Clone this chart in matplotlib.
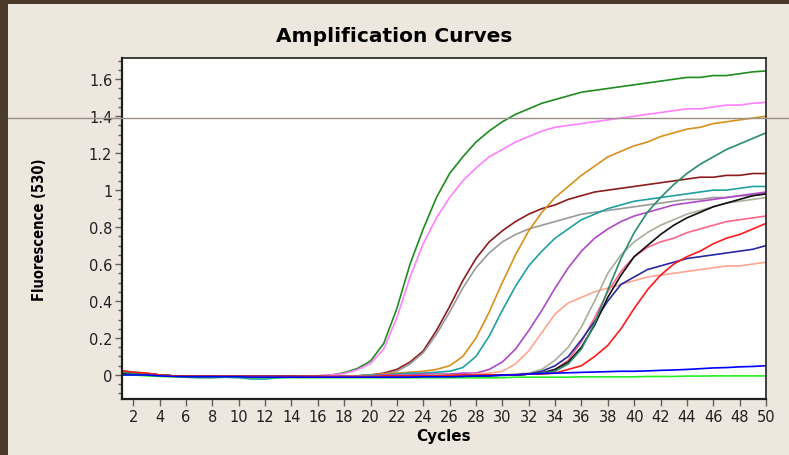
import matplotlib
matplotlib.use("Agg")
import matplotlib.pyplot as plt
from matplotlib.lines import Line2D
from matplotlib.patches import Rectangle
from matplotlib.ticker import MultipleLocator
import matplotlib.transforms as mtransforms

# ---------------------------------------------------------------------------
# data: fluorescence (530) per cycle
# ---------------------------------------------------------------------------
cycles = list(range(1, 51))

dark_green = [0.02, 0.015, 0.01, 0.0, -0.005, -0.012, -0.012, -0.01, -0.01, -0.01,
              -0.01, -0.01, -0.01, -0.01, -0.008, -0.005, 0.0, 0.012, 0.035, 0.075,
              0.17, 0.36, 0.60, 0.79, 0.96, 1.09, 1.18, 1.26, 1.32, 1.37,
              1.41, 1.44, 1.47, 1.49, 1.51, 1.53, 1.54, 1.55, 1.56, 1.57,
              1.58, 1.59, 1.60, 1.61, 1.61, 1.62, 1.62, 1.63, 1.64, 1.645]
pink = [0.01, 0.01, 0.005, 0.0, -0.005, -0.008, -0.008, -0.008, -0.008, -0.008,
        -0.008, -0.008, -0.008, -0.008, -0.006, -0.004, 0.0, 0.008, 0.028, 0.062,
        0.14, 0.31, 0.53, 0.71, 0.85, 0.96, 1.05, 1.12, 1.18, 1.22,
        1.26, 1.29, 1.32, 1.34, 1.35, 1.36, 1.37, 1.38, 1.39, 1.40,
        1.41, 1.42, 1.43, 1.44, 1.44, 1.45, 1.46, 1.46, 1.47, 1.475]
maroon = [0.01, 0.008, 0.005, 0.0, -0.005, -0.008, -0.008, -0.008, -0.01, -0.01,
          -0.01, -0.01, -0.01, -0.01, -0.01, -0.01, -0.01, -0.008, -0.005, 0.0,
          0.01, 0.03, 0.07, 0.13, 0.24, 0.37, 0.51, 0.63, 0.72, 0.78,
          0.83, 0.87, 0.90, 0.92, 0.95, 0.97, 0.99, 1.00, 1.01, 1.02,
          1.03, 1.04, 1.05, 1.06, 1.07, 1.07, 1.08, 1.08, 1.09, 1.09]
gray = [0.01, 0.008, 0.005, 0.0, -0.005, -0.008, -0.008, -0.008, -0.008, -0.008,
        -0.008, -0.008, -0.008, -0.008, -0.008, -0.008, -0.008, -0.008, -0.005, -0.002,
        0.005, 0.02, 0.06, 0.12, 0.22, 0.34, 0.47, 0.58, 0.66, 0.72,
        0.76, 0.79, 0.81, 0.83, 0.85, 0.87, 0.88, 0.89, 0.90, 0.91,
        0.92, 0.93, 0.94, 0.95, 0.95, 0.96, 0.96, 0.97, 0.97, 0.98]
orange = [0.01, 0.008, 0.005, 0.0, -0.005, -0.01, -0.01, -0.01, -0.01, -0.01,
          -0.01, -0.01, -0.012, -0.012, -0.012, -0.01, -0.01, -0.008, -0.005, 0.0,
          0.005, 0.01, 0.015, 0.02, 0.03, 0.05, 0.10, 0.20, 0.34, 0.50,
          0.65, 0.78, 0.88, 0.96, 1.02, 1.08, 1.13, 1.18, 1.21, 1.24,
          1.26, 1.29, 1.31, 1.33, 1.34, 1.36, 1.37, 1.38, 1.39, 1.40]
teal = [0.015, 0.01, 0.005, 0.0, -0.005, -0.01, -0.01, -0.01, -0.012, -0.015,
        -0.022, -0.022, -0.015, -0.012, -0.01, -0.01, -0.008, -0.005, -0.005, 0.0,
        0.0, 0.005, 0.01, 0.01, 0.015, 0.02, 0.04, 0.10, 0.21, 0.35,
        0.48, 0.59, 0.67, 0.74, 0.79, 0.84, 0.87, 0.90, 0.92, 0.94,
        0.95, 0.96, 0.97, 0.98, 0.99, 1.00, 1.00, 1.01, 1.02, 1.02]
purple = [0.01, 0.008, 0.005, 0.0, -0.005, -0.008, -0.008, -0.008, -0.008, -0.008,
          -0.008, -0.008, -0.008, -0.008, -0.008, -0.008, -0.008, -0.008, -0.005, -0.005,
          0.0, 0.0, 0.0, 0.005, 0.005, 0.005, 0.01, 0.01, 0.03, 0.07,
          0.14, 0.24, 0.35, 0.47, 0.58, 0.67, 0.74, 0.79, 0.83, 0.86,
          0.88, 0.90, 0.92, 0.93, 0.94, 0.95, 0.96, 0.97, 0.98, 0.99]
salmon = [0.01, 0.008, 0.005, 0.0, -0.005, -0.01, -0.01, -0.01, -0.01, -0.01,
          -0.01, -0.01, -0.012, -0.012, -0.012, -0.012, -0.012, -0.01, -0.01, -0.008,
          -0.005, -0.005, -0.005, -0.005, -0.005, -0.005, 0.0, 0.005, 0.01, 0.02,
          0.06, 0.13, 0.23, 0.33, 0.39, 0.42, 0.45, 0.47, 0.49, 0.51,
          0.53, 0.54, 0.55, 0.56, 0.57, 0.58, 0.59, 0.59, 0.60, 0.61]
sea_green = [0.015, 0.01, 0.005, 0.0, -0.005, -0.012, -0.015, -0.015, -0.012, -0.01,
             -0.01, -0.01, -0.01, -0.01, -0.01, -0.01, -0.01, -0.01, -0.008, -0.008,
             -0.008, -0.008, -0.008, -0.005, -0.005, -0.005, -0.005, -0.005, -0.002, -0.002,
             0.0, 0.005, 0.01, 0.02, 0.06, 0.14, 0.28, 0.46, 0.63, 0.77,
             0.88, 0.96, 1.03, 1.09, 1.14, 1.18, 1.22, 1.25, 1.28, 1.31]
khaki = [0.01, 0.008, 0.005, 0.0, -0.005, -0.008, -0.008, -0.008, -0.008, -0.008,
         -0.008, -0.008, -0.008, -0.008, -0.008, -0.008, -0.008, -0.008, -0.005, -0.005,
         -0.005, -0.005, -0.005, -0.005, 0.0, 0.0, 0.0, 0.0, 0.0, 0.0,
         0.005, 0.01, 0.03, 0.08, 0.15, 0.26, 0.40, 0.55, 0.65, 0.72,
         0.77, 0.81, 0.84, 0.87, 0.89, 0.91, 0.93, 0.94, 0.95, 0.96]
black = [0.01, 0.008, 0.005, 0.0, -0.005, -0.008, -0.008, -0.008, -0.008, -0.008,
         -0.008, -0.008, -0.008, -0.008, -0.008, -0.008, -0.01, -0.01, -0.01, -0.01,
         -0.01, -0.01, -0.008, -0.008, -0.005, -0.005, -0.005, -0.005, -0.002, 0.0,
         0.0, 0.005, 0.01, 0.03, 0.07, 0.15, 0.27, 0.42, 0.54, 0.64,
         0.70, 0.76, 0.81, 0.85, 0.88, 0.91, 0.93, 0.95, 0.97, 0.98]
hot_pink = [0.01, 0.008, 0.005, 0.0, -0.005, -0.008, -0.008, -0.008, -0.008, -0.008,
            -0.008, -0.008, -0.008, -0.008, -0.008, -0.008, -0.008, -0.008, -0.008, -0.008,
            -0.008, -0.008, -0.005, -0.005, -0.005, -0.005, -0.005, -0.002, 0.0, 0.0,
            0.0, 0.005, 0.01, 0.03, 0.08, 0.18, 0.31, 0.45, 0.56, 0.64,
            0.69, 0.72, 0.74, 0.77, 0.79, 0.81, 0.83, 0.84, 0.85, 0.86]
navy = [0.01, 0.008, 0.005, 0.0, -0.005, -0.008, -0.008, -0.008, -0.008, -0.008,
        -0.008, -0.008, -0.008, -0.008, -0.01, -0.012, -0.012, -0.012, -0.012, -0.012,
        -0.012, -0.012, -0.012, -0.01, -0.01, -0.01, -0.008, -0.005, -0.005, -0.002,
        0.0, 0.005, 0.02, 0.05, 0.10, 0.19, 0.29, 0.40, 0.49, 0.53,
        0.57, 0.59, 0.61, 0.63, 0.64, 0.65, 0.66, 0.67, 0.68, 0.70]
red = [0.025, 0.015, 0.01, 0.0, -0.005, -0.008, -0.008, -0.008, -0.008, -0.008,
       -0.008, -0.008, -0.008, -0.008, -0.008, -0.008, -0.008, -0.008, -0.008, -0.008,
       -0.005, -0.005, -0.005, -0.005, -0.005, -0.002, 0.0, 0.0, 0.0, 0.0,
       0.0, 0.005, 0.005, 0.01, 0.03, 0.05, 0.10, 0.16, 0.25, 0.36,
       0.46, 0.54, 0.60, 0.64, 0.67, 0.71, 0.74, 0.76, 0.79, 0.82]
blue = [0.0, 0.0, 0.0, -0.005, -0.008, -0.01, -0.01, -0.01, -0.01, -0.01,
        -0.012, -0.012, -0.012, -0.012, -0.012, -0.012, -0.012, -0.012, -0.012, -0.012,
        -0.012, -0.012, -0.012, -0.01, -0.01, -0.01, -0.008, -0.005, -0.005, 0.0,
        0.0, 0.005, 0.008, 0.01, 0.012, 0.014, 0.016, 0.018, 0.02, 0.02,
        0.022, 0.025, 0.027, 0.03, 0.034, 0.038, 0.04, 0.044, 0.046, 0.05]
lime = [0.0, 0.0, -0.005, -0.008, -0.01, -0.012, -0.012, -0.012, -0.012, -0.012,
        -0.014, -0.014, -0.014, -0.014, -0.015, -0.015, -0.015, -0.015, -0.015, -0.015,
        -0.015, -0.015, -0.015, -0.015, -0.015, -0.015, -0.015, -0.015, -0.015, -0.015,
        -0.012, -0.012, -0.012, -0.012, -0.012, -0.01, -0.01, -0.01, -0.01, -0.01,
        -0.008, -0.008, -0.008, -0.006, -0.006, -0.005, -0.005, -0.005, -0.005, -0.005]

series = [
    (dark_green, "#1E8C1E"), (pink, "#FF80FF"), (maroon, "#8B1C1C"),
    (gray, "#9A9A9A"), (orange, "#D8901C"), (teal, "#20A0A0"),
    (purple, "#B048C8"), (salmon, "#FFA590"), (khaki, "#A8B09C"),
    (hot_pink, "#FF6688"), (navy, "#2828A0"), (black, "#101010"),
    (sea_green, "#2A8C6E"), (red, "#FF1A1A"), (lime, "#22EE22"), (blue, "#0000FF"),
]

x_ticks = list(range(2, 51, 2))
y_ticks = [0, 0.2, 0.4, 0.6, 0.8, 1.0, 1.2, 1.4, 1.6]
y_tick_labels = ["0", "0.2", "0.4", "0.6", "0.8", "1", "1.2", "1.4", "1.6"]
threshold = 1.39

# ---------------------------------------------------------------------------
# figure
# ---------------------------------------------------------------------------
W, H = 789, 456
fig = plt.figure(figsize=(W / 100, H / 100), dpi=100, facecolor="#EEE7DE")

# wood frame strips (left + top)
fig.patches.append(Rectangle((0, 0), 8 / W, 1, transform=fig.transFigure,
                             facecolor="#4B3A2A", edgecolor="none", zorder=0))
fig.patches.append(Rectangle((0, 1 - 5 / H), 1, 5 / H, transform=fig.transFigure,
                             facecolor="#4B3A2A", edgecolor="none", zorder=0))

ax = fig.add_axes([122 / W, 1 - 400 / H, (766 - 122) / W, (400 - 59) / H])
ax.set_facecolor("white")

for vals, col in series:
    ax.plot(cycles, vals, color=col, lw=1.2, solid_joinstyle="miter")

ax.set_xlim(1.15, 50)
ax.set_ylim(-0.13, 1.715)
ax.set_xticks(x_ticks)
ax.set_xticklabels([str(t) for t in x_ticks])
ax.set_yticks(y_ticks)
ax.set_yticklabels(y_tick_labels)
ax.yaxis.set_minor_locator(MultipleLocator(0.05))
ax.tick_params(axis="both", which="major", direction="out", length=5, width=1,
               color="#606060", labelsize=10.5, labelcolor="#202020", pad=2)
ax.tick_params(axis="y", which="minor", direction="out", length=3, width=1,
               color="#606060")
for side, sp in ax.spines.items():
    sp.set_color("#202020")
    sp.set_linewidth(1.6 if side in ("left", "bottom") else 1.2)

ax.set_xlabel("Cycles", fontsize=11, fontweight="bold", labelpad=3)
fig.text(40 / W, 1 - 230 / H, "Fluorescence (530)", rotation=90,
         ha="center", va="center", fontsize=10.5, fontweight="bold",
         fontstretch="condensed", family="DejaVu Sans")
fig.text(0.5, 1 - 36 / H, "Amplification Curves", ha="center", va="center",
         fontsize=14.5, fontweight="heavy")

# threshold line runs across the whole panel
trans = mtransforms.blended_transform_factory(fig.transFigure, ax.transData)
fig.add_artist(Line2D([8 / W, 1], [threshold, threshold], transform=trans,
                      color="#9A9088", lw=1.0, zorder=5))

fig.savefig("out.png", dpi=100, facecolor=fig.get_facecolor())
